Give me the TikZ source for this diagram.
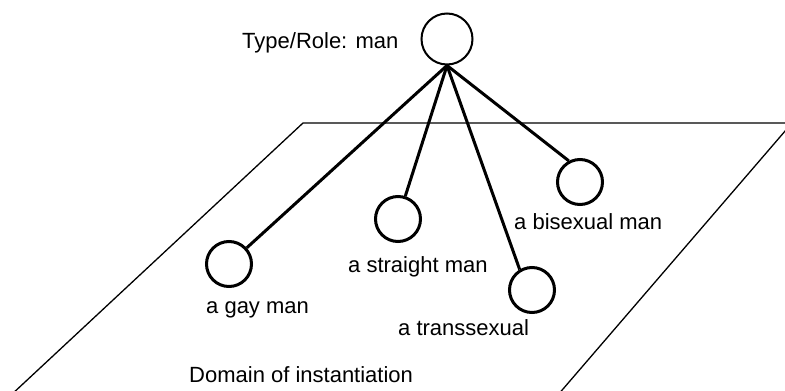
\documentclass[tikz,border=0pt]{standalone}
\usepackage{fontspec}
\setmainfont{Liberation Sans}
\begin{document}
\begin{tikzpicture}[x=1pt,y=-1pt,
  inst/.style={draw, circle, line width=3pt, minimum size=45pt, inner sep=0pt},
  lbl/.style={anchor=base west, inner sep=0pt, font=\fontsize{22}{26}\selectfont},
  link/.style={line width=3pt}]
  \clip (0,0) rectangle (785,391);
  % the plane the instances live on
  \draw[line width=1.3pt] (10,396) -- (303,123) -- (792,123) -- (557,396);
  \node[draw, circle, line width=2pt, minimum size=51pt, inner sep=0pt] (man) at (447,39) {};
  \node[lbl] (manlbl) at (242,48) {Type/Role: man};
  \node[inst] (gay) at (229,264) {};
  \node[inst] (straight) at (398,219) {};
  \node[inst] (trans) at (532,290) {};
  \node[inst] (bi) at (580,182) {};
  \draw[link] (man.south) -- (gay);
  \draw[link] (man.south) -- (straight);
  \draw[link] (man.south) -- (trans.121);
  \draw[link] (man.south) -- (bi.118);
  \node[lbl] (gaylbl) at (206,313) {a gay man};
  \node[lbl] (straightlbl) at (348,272) {a straight man};
  \node[lbl] (translbl) at (398,335) {a transsexual};
  \node[lbl] (bilbl) at (514,229) {a bisexual man};
  \node[lbl] (domain) at (189,382) {Domain of instantiation};
\end{tikzpicture}
\end{document}
